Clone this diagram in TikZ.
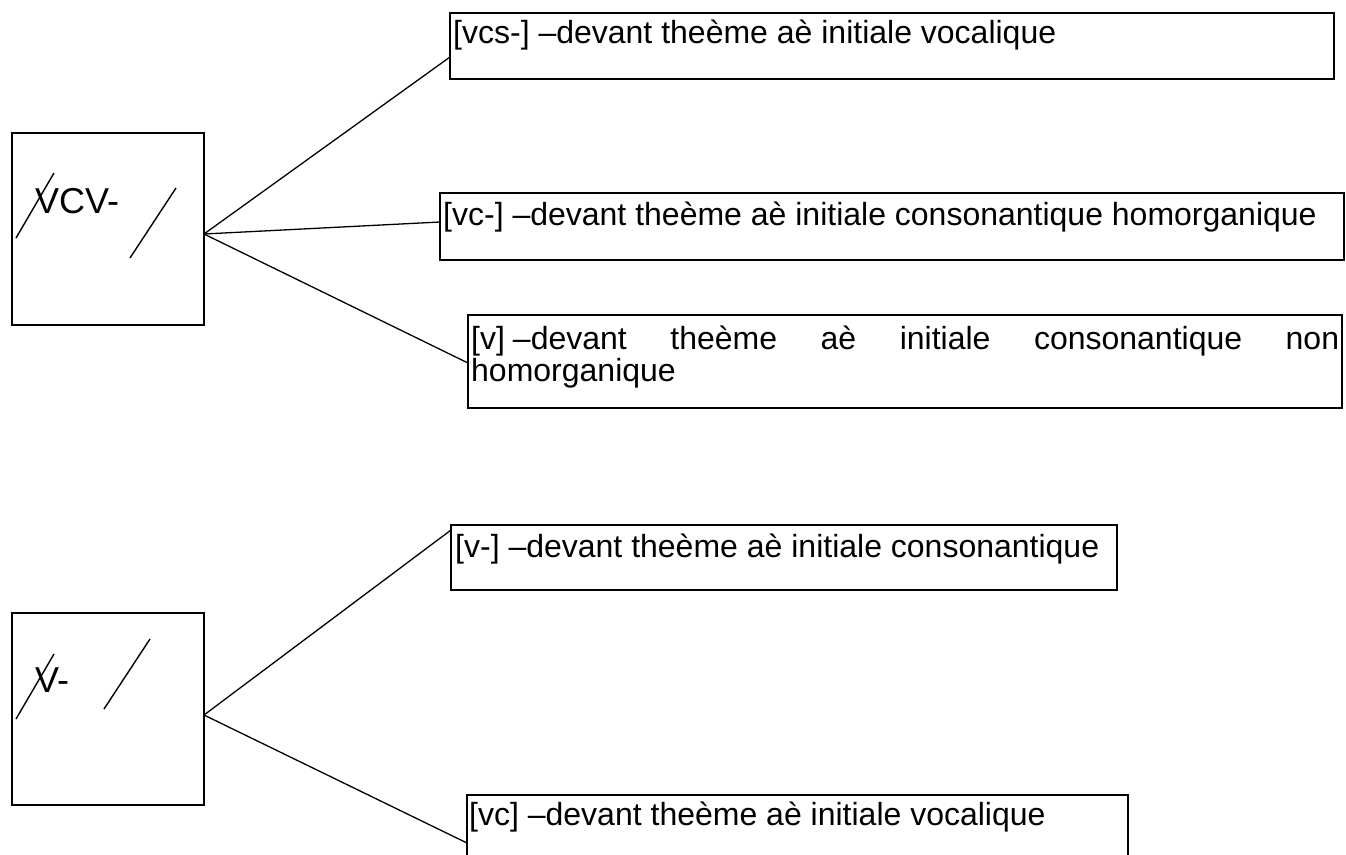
\documentclass[tikz,border=0pt]{standalone}
\usepackage{fontspec}
\setmainfont{Liberation Sans}
\begin{document}
\begin{tikzpicture}[x=1pt,y=-1pt,
  box/.style={draw, line width=1.4pt, anchor=north west, inner sep=0pt, outer sep=0pt},
  lbl/.style={anchor=base west, inner sep=0pt, font=\fontsize{32}{32}\selectfont},
  big/.style={anchor=base west, inner sep=0pt, font=\fontsize{36}{36}\selectfont},
  conn/.style={line width=1.3pt},
  slash/.style={line width=1.4pt}]
\clip (0,0) rectangle (1346,854);
% left boxes
\node[box, minimum width=192pt, minimum height=192pt] (r1) at (12,133) {};
\node[box, minimum width=192pt, minimum height=192pt] (r2) at (12,613) {};
% right boxes
\node[box, minimum width=884pt, minimum height=66pt] (bA) at (450,13) {};
\node[box, minimum width=904pt, minimum height=67pt] (bB) at (440,193) {};
\node[box, minimum width=874pt, minimum height=93pt] (bC) at (468,315) {};
\node[box, minimum width=666pt, minimum height=65pt] (bD) at (451,525) {};
\node[box, minimum width=661pt, minimum height=66pt] (bE) at (467,795) {};
% texts
\node[big] (t1) at (35,213) {VCV-};
\node[big] (t2) at (35,692) {V-};
\node[lbl] (tA) at (453,43) {[vcs-] –devant theème aè initiale vocalique};
\node[lbl] (tB) at (443,225) {[vc-] –devant theème aè initiale consonantique homorganique};
\node[lbl] (tC1) at (471,349) {\makebox[868pt][s]{[v]\hspace{8pt}–devant theème aè initiale consonantique non}};
\node[lbl] (tC2) at (471,381) {homorganique};
\node[lbl] (tD) at (455,557) {[v-] –devant theème aè initiale consonantique};
\node[lbl] (tE) at (469,825) {[vc] –devant theème aè initiale vocalique};
% slashes
\draw[slash] (16,238) -- (54,173);
\draw[slash] (130,258) -- (176,188);
\draw[slash] (16,719) -- (54,654);
\draw[slash] (104,709) -- (150,639);
% connectors
\draw[conn] ([yshift=-5pt]r1.east) -- ([yshift=-44pt]bA.north west);
\draw[conn] ([yshift=-5pt]r1.east) -- ([yshift=-29pt]bB.north west);
\draw[conn] ([yshift=-5pt]r1.east) -- ([yshift=-48pt]bC.north west);
\draw[conn] ([yshift=-6pt]r2.east) -- ([yshift=-5pt]bD.north west);
\draw[conn] ([yshift=-6pt]r2.east) -- ([yshift=-48pt]bE.north west);
\end{tikzpicture}
\end{document}
